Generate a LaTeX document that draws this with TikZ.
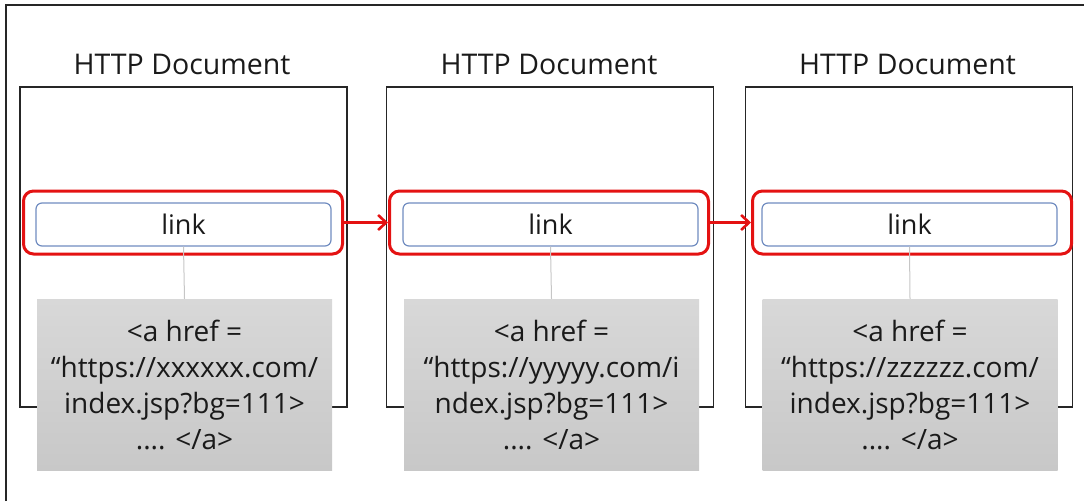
\documentclass[tikz,border=0pt]{standalone}
\usepackage{fontspec}
\setmainfont{Open Sans}
\usetikzlibrary{arrows.meta}
\definecolor{linkred}{RGB}{228,18,18}
\definecolor{linkblue}{RGB}{112,140,192}
\definecolor{codetop}{RGB}{216,216,216}
\definecolor{codebot}{RGB}{200,200,200}
\definecolor{ink}{RGB}{26,26,26}
\begin{document}
\begin{tikzpicture}[x=1pt,y=-1pt,
  every node/.style={text=ink},
  docbox/.style={draw=black!85, line width=1.3pt, minimum width=327pt, minimum height=320pt, inner sep=0pt},
  doctitle/.style={font=\fontsize{28.5}{32}\selectfont, inner sep=0pt},
  redframe/.style={draw=linkred, line width=3pt, rounded corners=10pt, minimum width=319pt, minimum height=63pt, inner sep=0pt},
  linkbox/.style={draw=linkblue, line width=1.2pt, rounded corners=6pt, minimum width=295pt, minimum height=43pt, inner sep=0pt, font=\fontsize{27}{30}\selectfont},
  codebox/.style={top color=codetop, bottom color=codebot, draw=none, minimum width=295pt, minimum height=171pt, inner sep=0pt, align=center, font=\fontsize{28}{36}\selectfont},
  stem/.style={draw=gray!45, line width=1pt},
  hop/.style={draw=linkred, line width=2.6pt, -{Straight Barb[length=8pt,width=15pt,line width=2.6pt]}}
]
\useasboundingbox (0,0) rectangle (1084,501);
% outer frame
\draw[line width=1.3pt, black!85] (6,501) -- (6,5) -- (1084,5);

% three documents
\node[docbox] (doc1) at (183.5,247) {};
\node[docbox] (doc2) at (550,247) {};
\node[docbox] (doc3) at (909,247) {};

\node[doctitle, anchor=base] (title1) at (182,74) {HTTP Document};
\node[doctitle, anchor=base] (title2) at (549,74) {HTTP Document};
\node[doctitle, anchor=base] (title3) at (907.5,74) {HTTP Document};

\node[redframe] (red1) at (183,222.5) {};
\node[redframe] (red2) at (549,222.5) {};
\node[redframe] (red3) at (912,222.5) {};

\node[linkbox] (link1) at (183.5,224.5) {link};
\node[linkbox] (link2) at (550.5,224.5) {link};
\node[linkbox] (link3) at (909.5,224.5) {link};

\node[codebox] (code1) at (184.5,384.5) {<a href =\\“https://xxxxxx.com/\\index.jsp?bg=111>\\.... </a>};
\node[codebox] (code2) at (551.5,384.5) {<a href =\\“https://yyyyy.com/i\\ndex.jsp?bg=111>\\.... </a>};
\node[codebox] (code3) at (910,384.5) {<a href =\\“https://zzzzzz.com/\\index.jsp?bg=111>\\.... </a>};

\draw[stem] (link1.south) -- (code1.north);
\draw[stem] (link2.south) -- (code2.north);
\draw[stem] (link3.south) -- (code3.north);

\draw[hop] (red1.east) -- (red2.west);
\draw[hop] (red2.east) -- (red3.west);
\end{tikzpicture}
\end{document}
